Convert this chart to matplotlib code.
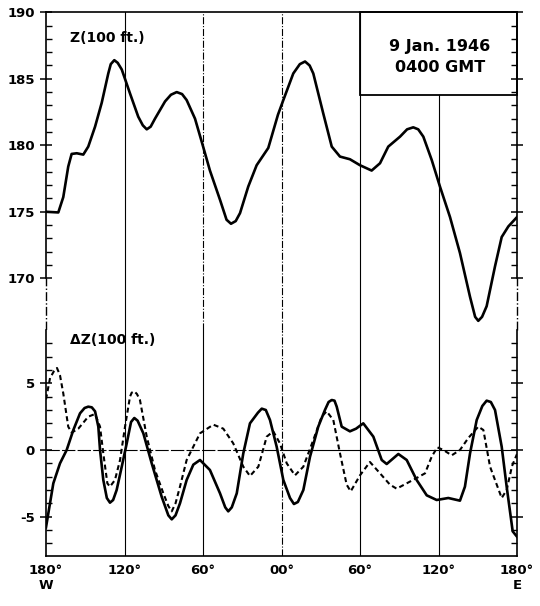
import matplotlib.pyplot as plt
import numpy as np
from matplotlib.ticker import FixedLocator
from matplotlib.patches import Rectangle

plt.rcParams['font.family'] = 'DejaVu Sans'
plt.rcParams['font.weight'] = 'bold'
plt.rcParams['axes.unicode_minus'] = False

# upper curve: Z (100 ft) along the latitude circle
z_lon = [-180, -170.6, -166.8, -163.0, -160.4, -156.5, -151.5, -147.7, -142.5, -137.4,
         -132.4, -130.5, -127.8, -125.2, -122.1, -115.8, -109.5, -106.0, -103.0, -100.0,
         -96.7, -89.0, -84.5, -80.1, -76.0, -72.5, -66.1, -60.2, -54.7, -47.0,
         -42.0, -38.6, -35.0, -31.7, -25.4, -19.0, -10.1, -2.7, 1.4, 9.0,
         14.0, 18.0, 21.5, 24.3, 31.9, 38.4, 44.7, 52.3, 60.0, 68.9,
         75.3, 81.6, 90.6, 96.0, 100.7, 104.5, 108.4, 114.8, 121.1, 128.8,
         136.4, 144.1, 148.0, 150.4, 153.3, 156.8, 163.2, 168.3, 173.4, 180]
z_val = [175.0, 174.95, 176.1, 178.4, 179.35, 179.4, 179.3, 179.9, 181.4, 183.2,
         185.4, 186.1, 186.4, 186.2, 185.7, 183.9, 182.15, 181.5, 181.2, 181.4,
         182.0, 183.3, 183.8, 184.0, 183.85, 183.4, 182.0, 180.0, 178.1, 175.9,
         174.4, 174.1, 174.3, 174.9, 176.9, 178.5, 179.8, 182.3, 183.4, 185.4,
         186.1, 186.3, 186.0, 185.4, 182.4, 179.9, 179.15, 178.95, 178.5, 178.1,
         178.65, 179.9, 180.65, 181.2, 181.35, 181.2, 180.65, 178.9, 176.9, 174.6,
         171.9, 168.6, 167.1, 166.8, 167.1, 167.9, 170.9, 173.1, 173.9, 174.6]

# lower panel, solid curve: delta Z (100 ft)
dz1_lon = [-180, -174.4, -169.3, -164.2, -159.1, -154.0, -150.5, -147.7, -145.0, -142.5,
           -140.0, -138.7, -136.2, -133.5, -131.1, -128.7, -126.0, -122.1, -118.3, -115.0,
           -112.5, -110.0, -105.6, -99.2, -91.6, -86.5, -83.9, -81.0, -77.6, -72.5,
           -67.4, -62.3, -54.7, -47.0, -43.0, -40.7, -38.0, -34.2, -29.2, -24.1,
           -18.0, -15.1, -12.0, -8.8, -3.7, 1.4, 6.5, 9.5, 12.5, 16.7,
           21.8, 28.1, 33.2, 36.0, 38.4, 40.5, 42.2, 46.0, 52.3, 57.0,
           62.5, 70.2, 76.6, 80.4, 89.3, 95.7, 103.3, 111.0, 118.6, 127.5,
           136.4, 140.2, 144.1, 149.2, 153.5, 156.8, 160.0, 163.2, 168.3, 172.1,
           176.7, 180]
dz1_val = [-5.8, -2.5, -1.0, 0.0, 1.5, 2.75, 3.15, 3.25, 3.2, 2.9,
           1.75, 0.0, -2.25, -3.6, -3.95, -3.75, -3.0, -1.25, 0.5, 2.1,
           2.4, 2.2, 1.25, -1.0, -3.5, -4.9, -5.2, -4.9, -4.0, -2.25,
           -1.1, -0.75, -1.5, -3.25, -4.3, -4.6, -4.3, -3.25, -0.25, 2.0,
           2.8, 3.1, 3.0, 2.25, 0.25, -2.25, -3.6, -4.05, -3.9, -3.0,
           -0.5, 1.75, 3.0, 3.6, 3.75, 3.7, 3.25, 1.75, 1.4, 1.6,
           2.0, 1.0, -0.75, -1.05, -0.3, -0.75, -2.25, -3.4, -3.75, -3.6,
           -3.8, -2.75, -0.25, 2.25, 3.3, 3.7, 3.6, 3.0, 0.25, -2.75,
           -6.1, -6.5]

# lower panel, dashed curve
dz2_lon = [-180, -176.9, -174.0, -171.6, -169.3, -166.8, -163.0, -160.4, -155.3, -147.7,
           -142.5, -138.7, -136.2, -133.1, -131.1, -127.3, -123.4, -119.6, -115.8, -114.5,
           -112.5, -110.5, -108.2, -103.0, -96.7, -90.3, -86.5, -83.9, -81.0, -77.6,
           -72.5, -67.4, -62.3, -52.1, -44.5, -36.9, -29.2, -24.1, -17.7, -11.3,
           -6.3, -1.2, 4.0, 10.3, 16.7, 24.3, 30.7, 34.5, 39.6, 44.7,
           49.8, 52.9, 60.0, 67.6, 75.3, 82.9, 88.0, 95.7, 103.3, 109.7,
           114.8, 119.1, 123.7, 130.1, 136.4, 142.8, 150.4, 154.3, 159.4, 168.3,
           172.1, 176.2, 180]
dz2_val = [3.8, 5.4, 5.9, 6.15, 5.6, 4.25, 1.75, 1.3, 1.6, 2.5,
           2.7, 1.75, -0.25, -2.5, -2.75, -2.25, -0.75, 1.75, 4.0, 4.3,
           4.4, 4.2, 3.75, 1.0, -1.5, -3.25, -4.2, -4.6, -4.0, -2.75,
           -0.75, 0.25, 1.25, 1.9, 1.6, 0.5, -1.25, -1.95, -1.25, 1.0,
           1.4, 0.5, -1.0, -1.9, -1.25, 0.75, 2.5, 2.9, 2.25, -0.25,
           -2.6, -3.1, -1.9, -0.9, -1.75, -2.6, -2.9, -2.5, -2.1, -1.75,
           -0.5, 0.2, 0.0, -0.4, 0.0, 0.9, 1.75, 1.5, -1.25, -3.6,
           -3.0, -1.2, -0.3]

x_ticks = [-180, -120, -60, 0, 60, 120, 180]
x_labels = ['180°\nW', '120°', '60°', '00°', '60°', '120°', '180°\nE']
z_ticks = [170, 175, 180, 185, 190]
dz_ticks = [-5, 0, 5]

fig = plt.figure(figsize=(5.4, 6.06), dpi=100)
L = 46 / 540
W = 471 / 540
ax1 = fig.add_axes([L, 276 / 606, W, 317.7 / 606])
ax2 = fig.add_axes([L, 50 / 606, W, 226 / 606], sharex=ax1)

z_lo = 166.11
ax1.set_xlim(-180, 180)
ax1.set_ylim(z_lo, 190)
ax2.set_ylim(-7.95, 9.0)

# frame
for ax in (ax1, ax2):
    for s in ax.spines.values():
        s.set_linewidth(1.2)
ax1.spines['bottom'].set_visible(False)
ax2.spines['top'].set_visible(False)
ax1.spines['left'].set_bounds(170, 190)
ax1.spines['right'].set_bounds(170, 190)
frac = (170 - z_lo) / (190 - z_lo)
for xv in (-180, 180):
    ax1.axvline(xv, ymin=0, ymax=frac, color='k', lw=1.0, ls='-.', clip_on=False)

# vertical grid lines
box_lo = 183.78
up_styles = {-120: '-', -60: '-.', 0: '-.', 60: '-', 120: '-'}
lo_styles = {-120: '-', -60: '-', 0: '-.', 60: '-', 120: '-'}
for xv, st in up_styles.items():
    top = (box_lo - z_lo) / (190 - z_lo) if xv == 120 else 1
    ax1.axvline(xv, ymax=top, color='k', lw=0.8, ls=st)
for xv, st in lo_styles.items():
    ax2.axvline(xv, color='k', lw=0.8, ls=st)
ax2.axhline(0, xmin=0, xmax=0.52, color='k', lw=0.8, ls=(0, (12, 2)))
ax2.axhline(0, xmin=0.52, xmax=1, color='k', lw=0.8)

# date box
ax1.add_patch(Rectangle((60, box_lo), 120, 190 - box_lo, fill=False,
                        ec='k', lw=1.3, clip_on=False))
ax1.text(121, 187.45, '9 Jan. 1946', ha='center', va='center', fontsize=11.5)
ax1.text(121, 185.85, '0400 GMT', ha='center', va='center', fontsize=11.5)

# curves
ax1.plot(z_lon, z_val, color='k', lw=1.9, solid_joinstyle='round')
ax2.plot(dz1_lon, dz1_val, color='k', lw=1.9, solid_joinstyle='round')
ax2.plot(dz2_lon, dz2_val, color='k', lw=1.5, ls=(0, (2.4, 1.6)))

ax1.text(-161.7, 188.1, 'Z(100 ft.)', ha='left', va='center', fontsize=10)
ax2.text(-161.7, 8.25, 'ΔZ(100 ft.)', ha='left', va='center', fontsize=10)

# ticks
ax1.set_yticks(z_ticks)
ax1.yaxis.set_minor_locator(FixedLocator(np.arange(170, 191)))
ax2.set_yticks(dz_ticks)
ax2.yaxis.set_minor_locator(FixedLocator(np.arange(-7, 9)))
for ax in (ax1, ax2):
    ax.tick_params(axis='y', which='major', direction='inout', length=8, width=1.1,
                   left=True, right=True, labelsize=9.5, pad=4)
    ax.tick_params(axis='y', which='minor', direction='in', length=4, width=1.0,
                   left=True, right=True)
ax1.tick_params(axis='x', length=0, labelbottom=False)
ax2.set_xticks(x_ticks)
ax2.set_xticklabels(x_labels)
ax2.tick_params(axis='x', length=0, pad=6, labelsize=9.5)

fig.savefig('out.png', dpi=100, facecolor='white')
